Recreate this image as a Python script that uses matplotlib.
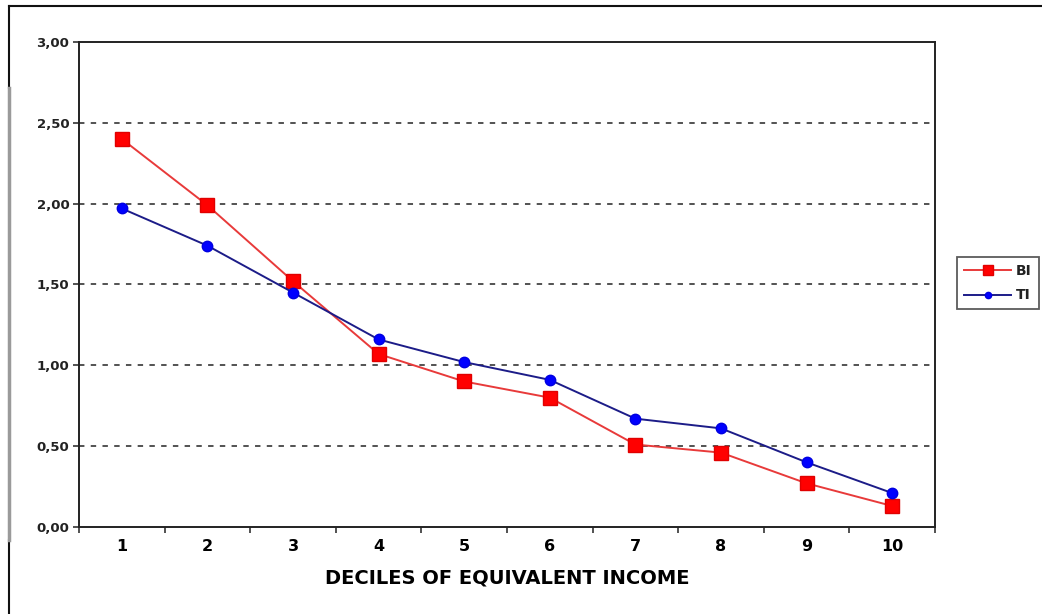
import matplotlib

matplotlib.use("Agg")
import matplotlib.pyplot as plt
from matplotlib.lines import Line2D
from matplotlib.ticker import FixedLocator, FuncFormatter

deciles = [1, 2, 3, 4, 5, 6, 7, 8, 9, 10]
bi_values = [2.40, 1.99, 1.52, 1.07, 0.90, 0.80, 0.51, 0.46, 0.27, 0.13]
ti_values = [1.97, 1.74, 1.45, 1.16, 1.02, 0.91, 0.67, 0.61, 0.40, 0.21]
y_ticks = [0.0, 0.5, 1.0, 1.5, 2.0, 2.5, 3.0]

plt.rcParams["font.family"] = ["DejaVu Sans"]

fig = plt.figure(figsize=(10.42, 6.14), dpi=100)
ax = fig.add_axes([0.0758, 0.1417, 0.8215, 0.790])

ax.plot(deciles, bi_values, color="#e83a3a", linewidth=1.4, marker="s",
        markersize=10, markerfacecolor="#ff0000", markeredgecolor="#e00000", label="BI", zorder=3)
ax.plot(deciles, ti_values, color="#1c1c88", linewidth=1.4, marker="o",
        markersize=7.5, markerfacecolor="#0000ff", markeredgecolor="#0000e0", label="TI", zorder=3)

ax.set_xlim(0.5, 10.5)
ax.set_ylim(0, 3.0)
ax.set_xticks(deciles)
ax.xaxis.set_minor_locator(FixedLocator([d + 0.5 for d in deciles[:-1]] + [0.5, 10.5]))
ax.tick_params(axis="x", which="major", length=0, pad=9, labelsize=11.5)
ax.tick_params(axis="x", which="minor", length=4, width=1.2, color="#333333")
ax.set_yticks(y_ticks)
ax.yaxis.set_major_formatter(FuncFormatter(lambda v, _: f"{v:.2f}".replace(".", ",")))
ax.tick_params(axis="y", length=4, width=1.2, color="#333333", labelsize=9.5, pad=3,
               labelcolor="#222222")
for lbl in ax.get_xticklabels() + ax.get_yticklabels():
    lbl.set_fontweight("bold")

for v in y_ticks[1:-1]:
    ax.axhline(v, color="#444444", linewidth=1.3, linestyle=(0, (3, 3.5)), zorder=1)

for side in ax.spines.values():
    side.set_linewidth(1.4)
    side.set_color("#222222")

ax.set_xlabel("DECILES OF EQUIVALENT INCOME", fontsize=14, fontweight="bold", labelpad=10)

leg = fig.legend(loc="upper left", bbox_to_anchor=(957 / 1042, 1 - 257 / 614), fontsize=10,
                 frameon=True, fancybox=False, handlelength=3.4, borderpad=0.5,
                 labelspacing=0.75, handletextpad=0.35, borderaxespad=0)
leg.get_frame().set_edgecolor("#333333")
leg.get_frame().set_linewidth(1.3)
for txt in leg.get_texts():
    txt.set_fontweight("bold")
    txt.set_color("#222222")
leg.legend_handles[0].set_markersize(7)
leg.legend_handles[1].set_markersize(4.5)

# outer frame of the original picture
frame_kw = dict(color="#111111", linewidth=1.5, transform=fig.transFigure)
top = 1 - 6 / 614
left = 9 / 1042
fig.add_artist(Line2D([left, 1], [top, top], **frame_kw))
fig.add_artist(Line2D([left, left], [1 - 88 / 614, top], **frame_kw))
fig.add_artist(Line2D([left, left], [0, 1 - 540 / 614], **frame_kw))
fig.add_artist(Line2D([left, left], [1 - 540 / 614, 1 - 88 / 614], color="#9a9a9a",
                      linewidth=2.5, transform=fig.transFigure))

fig.savefig("out.png", dpi=100)
